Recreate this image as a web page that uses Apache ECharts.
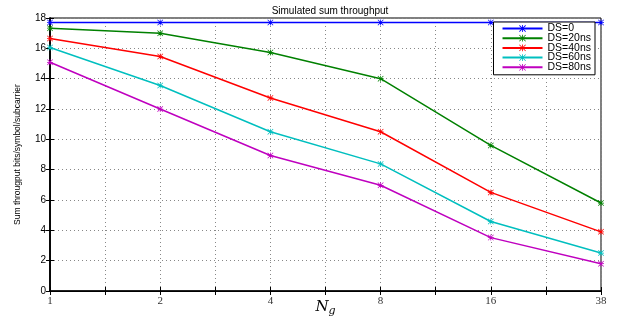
<!DOCTYPE html>
<html>
<head>
<meta charset="utf-8">
<script src="https://cdn.jsdelivr.net/npm/echarts@6/dist/echarts.min.js"></script>
<style>
  html, body { margin: 0; padding: 0; background: #fff; }
  #show { width: 618px; height: 316px; }
</style>
</head>
<body>
<div id="show"></div>
<script>
// N_g values (evenly spaced on the x axis)
var ngLabels = ['1', '2', '4', '8', '16', '38'];
var seriesNames = ['DS=0', 'DS=20ns', 'DS=40ns', 'DS=60ns', 'DS=80ns'];
var ds0  = [17.7, 17.7, 17.7, 17.7, 17.7, 17.7];
var ds20 = [17.33, 17.0, 15.72, 14.0, 9.6, 5.8];
var ds40 = [16.65, 15.46, 12.73, 10.5, 6.5, 3.9];
var ds60 = [16.05, 13.55, 10.5, 8.38, 4.58, 2.5];
var ds80 = [15.08, 12.0, 8.93, 6.97, 3.52, 1.8];
var colors = ['#0000ff', '#008000', '#ff0000', '#00bfbf', '#bf00bf'];

// asterisk marker
var star = 'path://M4.4,0h1.2v10h-1.2z M0,4.4h10v1.2h-10z M0.8,0L10,9.2L9.2,10L0,0.8z M9.2,0L10,0.8L0.8,10L0,9.2z';

function toPoints(arr) {
  var pts = [];
  for (var i = 0; i < arr.length; i++) pts.push([i, arr[i]]);
  return pts;
}

var allData = [ds0, ds20, ds40, ds60, ds80];
var series = [];
for (var k = 0; k < allData.length; k++) {
  series.push({
    name: seriesNames[k],
    type: 'line',
    data: toPoints(allData[k]),
    symbol: star,
    symbolSize: 6,
    showAllSymbol: true,
    lineStyle: { width: 1.5, color: colors[k] },
    itemStyle: { color: colors[k] },
    z: 3 + k
  });
}

var myChart = echarts.init(document.getElementById('show'));
myChart.setOption({
  animation: false,
  backgroundColor: '#fff',
  title: {
    text: 'Simulated sum throughput',
    left: 325, top: 1, textAlign: 'center',
    textStyle: { fontSize: 10, fontWeight: 'normal', color: '#000', fontFamily: 'Liberation Sans' }
  },
  legend: {
    data: seriesNames,
    orient: 'vertical',
    right: 23, top: 22,
    itemWidth: 40, itemHeight: 8.5, itemGap: -1.3,
    padding: [1, 4, 2, 8],
    borderColor: '#000', borderWidth: 1,
    backgroundColor: '#fff',
    textStyle: { fontSize: 10.5, color: '#000', fontFamily: 'Liberation Sans' }
  },
  grid: {
    left: 50, right: 17, top: 18, bottom: 25,
    outerBoundsMode: 'none',
    show: true, borderColor: '#000', borderWidth: 1
  },
  xAxis: [{
    type: 'value', min: 0, max: 5, interval: 0.5,
    name: '{n|N}{s|g}', nameLocation: 'middle', nameGap: 7,
    nameMoveOverlap: false,
    nameTextStyle: {
      verticalAlign: 'top',
      rich: {
        n: { fontSize: 15, fontStyle: 'italic', fontFamily: 'DejaVu Serif', color: '#000' },
        s: { fontSize: 11, fontStyle: 'italic', fontFamily: 'DejaVu Serif', color: '#000', padding: [8, 0, 0, 0] }
      }
    },
    axisLine: { lineStyle: { color: '#000', width: 1.5 } },
    axisTick: { inside: true, length: 4, lineStyle: { color: '#000' } },
    axisLabel: {
      fontSize: 11, color: '#333', fontFamily: 'Liberation Serif', margin: 5,
      formatter: function (v) { return (v % 1 === 0) ? ngLabels[v] : ''; }
    },
    splitLine: { show: true, lineStyle: { color: '#888', type: [1, 3] } }
  }, {
    type: 'value', min: 0, max: 5, interval: 0.5, position: 'top',
    axisLine: { lineStyle: { color: '#000' } },
    axisTick: { inside: true, length: 4, lineStyle: { color: '#000' } },
    axisLabel: { show: false }, splitLine: { show: false }
  }],
  yAxis: [{
    type: 'value', min: 0, max: 18, interval: 2,
    name: 'Sum througput bits/symbol/subcarrier',
    nameLocation: 'middle', nameGap: 28,
    nameTextStyle: { fontSize: 8.5, color: '#000', fontFamily: 'Liberation Sans' },
    axisLine: { show: true, lineStyle: { color: '#000', width: 1.5 } },
    axisTick: { show: true, inside: true, length: 4, lineStyle: { color: '#000' } },
    axisLabel: { fontSize: 10, color: '#000', fontFamily: 'Liberation Sans', margin: 4 },
    splitLine: { show: true, lineStyle: { color: '#888', type: [1, 3] } }
  }, {
    type: 'value', min: 0, max: 18, interval: 2, position: 'right',
    axisLine: { show: true, lineStyle: { color: '#000', width: 1.5 } },
    axisTick: { show: true, inside: true, length: 4, lineStyle: { color: '#000' } },
    axisLabel: { show: false }, splitLine: { show: false }
  }],
  series: series
});
</script>
</body>
</html>
